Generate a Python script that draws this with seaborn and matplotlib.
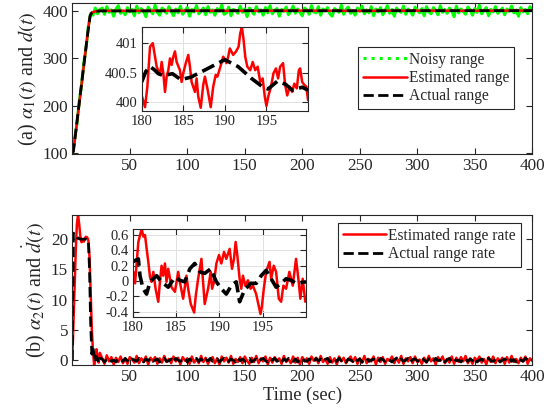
import numpy as np
import matplotlib
matplotlib.use("Agg")
import matplotlib.pyplot as plt
import seaborn as sns

# ---- data ----
# (a) range, main panel
t_range = [0, 1, 2, 4, 6, 8, 10, 12, 14, 15.5, 17, 20, 24, 50, 100, 150, 200, 250, 300, 350, 400]
actual_range = [100, 105, 125, 165, 205, 245, 285, 325, 364, 390, 396, 399, 400,
                400.0, 400.2, 400.5, 400.3, 400.4, 400.5, 400.6, 400.6]
est_range = [100, 104, 124, 164, 204, 244, 284, 324, 363, 389, 396.5, 399.2, 400.2,
             400.3, 400.5, 400.2, 400.7, 400.1, 400.6, 400.4, 400.9]

noisy_early = [96, 129, 161, 208, 243, 290, 322, 368, 395, 391, 406, 394, 403]
noisy_late = [
    406, 393, 409, 397, 402, 389, 404, 411, 395, 400,
    392, 407, 398, 403, 390, 410, 396, 405, 399, 388,
    408, 401, 394, 412, 397, 391, 406, 402, 395, 409,
    399, 390, 404, 396, 410, 393, 401, 407, 389, 403,
    398, 411, 394, 400, 406, 392, 409, 397, 402, 391,
    405, 399, 412, 393, 396, 408, 390, 403, 401, 395,
    410, 397, 404, 388, 406, 400, 393, 409, 398, 402,
    391, 407, 396, 411, 394, 401, 405, 389, 403, 399,
    408, 392, 400, 410, 395, 404, 397, 390, 406, 402,
    393, 411, 398, 396, 409, 391, 404, 400, 407, 394,
    389, 405, 401, 397, 412, 393, 403, 408, 395, 400,
    391, 406, 399, 410, 394, 402, 396, 409, 390, 404,
    398, 407, 392, 401, 411, 395, 403, 389, 406, 400,
    397, 410, 393, 404, 399, 391, 408, 402, 396, 405,
    390, 409, 398, 394, 407, 401, 392, 411, 397, 403,
    395, 406, 400, 388, 410, 396, 404, 399, 393, 408,
    402, 391, 405, 397, 412, 394, 401, 407, 390, 403,
    398, 409, 395, 400, 406, 392, 404, 399, 410, 396,
    402, 389, 407, 398, 403, 394, 409, 400]
noisy_range = noisy_early + noisy_late
t_noisy = np.linspace(0, 400, len(noisy_range))

# (a) inset, 180-200 s
ins_a_t_est = [180.0, 180.4, 180.68, 181.0, 181.33, 181.6, 181.8, 182.2, 182.4, 182.6,
               182.8, 183.0, 183.2, 183.4, 183.6, 183.8, 184.0, 184.2, 184.6, 184.8,
               185.0, 185.3, 185.6, 185.8, 186.0, 186.4, 186.6, 186.8, 187.1, 187.4,
               187.6, 187.9, 188.3, 188.6, 188.9, 189.1, 189.4, 189.8, 190.2, 190.4,
               190.6, 191.0, 191.35, 191.65, 191.85, 192.05, 192.25, 192.45, 192.7, 193.05,
               193.35, 193.65, 193.95, 194.25, 194.55, 194.8, 195.0, 195.25, 195.55, 195.85,
               196.15, 196.4, 196.65, 197.0, 197.25, 197.5, 197.8, 198.1, 198.35, 198.65,
               198.9, 199.05, 199.3, 199.55, 199.8, 200.0]
ins_a_est = [400.11, 399.91, 400.26, 400.94, 401.0, 400.77, 400.6, 400.46, 400.68, 400.49,
             400.17, 400.43, 400.54, 400.74, 400.63, 400.77, 400.86, 400.68, 400.54, 400.34,
             400.49, 400.66, 400.8, 400.6, 400.34, 400.17, 400.4, 400.09, 399.9, 400.29,
             400.43, 400.23, 399.91, 400.26, 400.46, 400.43, 400.57, 400.77, 400.66, 400.77,
             400.91, 400.8, 400.86, 400.94, 401.17, 401.27, 401.06, 400.77, 400.6, 400.54,
             400.68, 400.54, 400.6, 400.34, 400.4, 400.09, 399.93, 400.11, 400.26, 400.49,
             400.57, 400.4, 400.6, 400.66, 400.29, 400.11, 400.26, 400.17, 400.31, 400.23,
             400.54, 400.57, 400.34, 400.29, 400.26, 400.03]
ins_a_t_act = [180.0, 180.5, 181.0, 181.5, 182.0, 182.6, 183.7, 184.7, 185.9, 187.7,
               190.0, 191.6, 193.2, 194.6, 195.2, 196.3, 197.3, 198.1, 199.3, 200.0]
ins_a_act = [400.34, 400.52, 400.6, 400.55, 400.48, 400.45, 400.48, 400.38, 400.42, 400.55,
             400.72, 400.6, 400.4, 400.25, 400.22, 400.35, 400.3, 400.2, 400.25, 400.2]

# (b) range rate, main panel
est_rate_early = [0, 6, 12, 18, 22.5, 24, 22.5, 20.5, 19.5, 19.8, 19.6, 20.2, 20.4,
                  20.3, 19.8, 17, 11, 5, 1.5, -0.8, 0.3, 1.8, 0.6, -0.4, 1.2]
est_rate_late = [
    0.3, -0.6, 0.8, -0.2, 0.5, -0.7, 0.4, -0.3, 0.6, -0.5,
    0.2, -0.6, 0.5, 0.1, -0.4, 0.7, -0.5, 0.3, -0.2, 0.6,
    -0.7, 0.4, -0.1, 0.5, -0.6, 0.3, -0.4, 0.7, -0.3, 0.2,
    -0.5, 0.6, -0.2, 0.4, -0.7, 0.5, -0.1, 0.3, -0.6, 0.6,
    -0.4, 0.2, -0.5, 0.7, -0.3, 0.4, -0.6, 0.1, 0.5, -0.5,
    0.3, -0.7, 0.6, -0.2, 0.4, -0.4, 0.7, -0.6, 0.2, -0.3,
    0.5, -0.5, 0.6, -0.1, -0.6, 0.4, -0.3, 0.7, -0.5, 0.3,
    -0.2, 0.6, -0.7, 0.4, -0.4, 0.5, -0.1, 0.3, -0.6, 0.7,
    -0.3, 0.2, -0.5, 0.6, -0.4, 0.4, -0.7, 0.5, -0.2, 0.3,
    -0.6, 0.6, -0.1, 0.4, -0.5, 0.7, -0.3, 0.2, -0.6, 0.5,
    -0.4, 0.3, -0.7, 0.6, -0.2, 0.4, -0.5, 0.1, 0.6, -0.3,
    0.5, -0.6, 0.3, -0.4, 0.7, -0.5, 0.2, -0.2, 0.6, -0.7,
    0.4, -0.3, 0.5, -0.6, 0.2, -0.1, 0.6, -0.5, 0.4, -0.4,
    0.7, -0.6, 0.3, -0.2, 0.5, -0.5, 0.6, -0.3, 0.1, -0.6,
    0.4, -0.4, 0.7, -0.2, 0.3, -0.7, 0.5, -0.1, 0.6, -0.5,
    0.2, -0.4, 0.6, -0.6, 0.4, -0.3, 0.5, -0.2, 0.7, -0.5,
    0.3, -0.6, 0.4, -0.1, 0.6, -0.4, 0.2, -0.7, 0.5, -0.3,
    0.6, -0.5, 0.3, -0.2, 0.4, -0.6, 0.5, -0.4, 0.7, -0.3,
    0.2, -0.5, 0.4, -0.2, 0.6, -0.6, 0.3, -0.1]
act_rate_early = [0, 21, 20.8, 20.5, 20.3, 20.2, 20.1, 20, 20, 20, 20, 20, 20,
                  19.9, 19.8, 15, 6, 1, 2, 0.8, -0.3, 0.6, 0.2, -0.4, 0.3]
act_rate_late = [
    0.2, -0.3, 0.1, 0.3, -0.2, 0.0, -0.3, 0.2, 0.1, -0.2,
    0.3, -0.1, -0.3, 0.2, 0.0, -0.2, 0.3, 0.1, -0.3, 0.2,
    -0.1, 0.3, -0.2, 0.0, 0.2, -0.3, 0.1, 0.3, -0.2, -0.1,
    0.2, -0.3, 0.3, 0.0, -0.2, 0.1, 0.3, -0.3, 0.2, -0.1,
    0.0, 0.3, -0.2, 0.2, -0.3, 0.1, -0.1, 0.3, -0.2, 0.0,
    0.2, -0.3, 0.1, 0.3, -0.1, -0.2, 0.2, 0.0, -0.3, 0.3,
    -0.1, 0.2, -0.2, 0.1, 0.3, -0.3, 0.0, 0.2, -0.2, 0.1,
    0.3, -0.1, -0.3, 0.2, 0.0, 0.3, -0.2, 0.1, -0.3, 0.2,
    -0.1, 0.3, 0.0, -0.2, 0.2, -0.3, 0.1, 0.3, -0.1, -0.2,
    0.2, 0.0, -0.3, 0.3, -0.1, 0.2, -0.2, 0.1, 0.3, -0.3,
    0.0, 0.2, -0.2, 0.3, -0.1, 0.1, -0.3, 0.2, 0.0, -0.2,
    0.3, -0.1, 0.2, -0.3, 0.1, 0.3, -0.2, 0.0, 0.2, -0.1,
    -0.3, 0.3, 0.1, -0.2, 0.2, 0.0, -0.3, 0.1, 0.3, -0.1,
    0.2, -0.2, 0.0, 0.3, -0.3, 0.1, 0.2, -0.1, -0.2, 0.3,
    0.0, -0.3, 0.2, 0.1, -0.2, 0.3, -0.1, 0.0, 0.2, -0.3,
    0.1, 0.3, -0.2, 0.2, -0.1, 0.0, -0.3, 0.3, 0.1, -0.2,
    0.2, -0.1, 0.3, -0.3, 0.0, 0.2, -0.2, 0.1, 0.3, -0.1,
    -0.2, 0.1, 0.3, -0.3, 0.0, 0.2, -0.1, 0.3, -0.2, 0.1,
    -0.3, 0.2, 0.0, -0.2, 0.3, 0.1, -0.2, 0.0]
est_rate = est_rate_early + est_rate_late
act_rate = act_rate_early + act_rate_late
t_rate = np.concatenate([np.arange(0, len(est_rate_early)),
                         np.linspace(26, 400, len(est_rate_late))])

# (b) inset, 180-200 s
ins_b_t_est = [180.0, 180.08, 180.27, 180.65, 181.03, 181.23, 181.42, 181.61, 181.8, 182.0,
               182.18, 182.38, 182.64, 182.95, 183.14, 183.33, 183.52, 183.72, 183.9, 184.1,
               184.48, 184.87, 185.25, 185.44, 185.82, 186.2, 186.4, 186.7, 187.09, 187.28,
               187.55, 187.93, 188.12, 188.31, 188.7, 189.0, 189.16, 189.39, 189.66, 189.96,
               190.23, 190.54, 190.8, 191.19, 191.46, 191.69, 191.88, 192.07, 192.34, 192.53,
               192.72, 192.99, 193.3, 193.6, 193.87, 194.25, 194.44, 194.75, 194.9, 195.13,
               195.4, 195.79, 195.98, 196.28, 196.55, 196.86, 197.13, 197.39, 197.7, 198.08,
               198.47, 198.85, 199.12, 199.35, 199.62, 199.92]
ins_b_est = [0.01, 0.12, -0.03, 0.51, 0.68, 0.58, 0.6, 0.42, 0.25, 0.05,
             -0.01, 0.12, -0.1, -0.27, -0.01, 0.2, 0.07, 0.23, -0.01, 0.16,
             -0.08, -0.14, 0.12, -0.01, -0.23, 0.07, -0.1, -0.3, -0.41, -0.19,
             0.03, 0.29, -0.01, -0.3, -0.1, 0.12, -0.1, -0.01, 0.23, 0.34,
             0.23, 0.38, 0.29, 0.42, 0.16, 0.29, 0.51, 0.34, 0.03, -0.1,
             0.07, -0.06, 0.01, -0.1, -0.06, -0.17, -0.27, -0.43, -0.34, -0.1,
             0.12, 0.25, 0.03, 0.2, 0.12, -0.23, -0.27, -0.06, -0.1, 0.12,
             -0.06, 0.29, 0.03, -0.23, 0.03, -0.27]
ins_b_t_act = [180.0, 180.65, 180.84, 181.2, 181.6, 182.0, 182.76, 183.33, 184.1, 184.87,
               185.44, 186.0, 186.6, 187.16, 187.74, 188.31, 189.0, 189.66, 190.23, 190.8,
               191.38, 191.95, 192.34, 192.9, 193.6, 194.25, 194.83, 195.4, 195.98, 196.55,
               197.13, 197.7, 198.28, 198.85, 200.0]
ins_b_act = [0.25, 0.29, 0.07, -0.1, -0.17, -0.01, 0.07, -0.01, -0.08, 0.05,
             0.01, -0.01, 0.16, 0.23, 0.12, 0.1, 0.16, -0.01, -0.1, -0.17,
             -0.06, -0.01, -0.27, -0.12, -0.03, -0.03, 0.07, 0.14, 0.03, -0.08,
             -0.03, 0.03, 0.01, -0.03, -0.01]

main_xticks = [50, 100, 150, 200, 250, 300, 350, 400]
inset_xticks = [180, 185, 190, 195]

# ---- style ----
sns.set_theme(style="ticks")
plt.rcParams["font.family"] = ["Liberation Serif", "DejaVu Serif"]
plt.rcParams["mathtext.fontset"] = "stix"
plt.rcParams["axes.edgecolor"] = "0.15"
plt.rcParams["xtick.color"] = "0.15"
plt.rcParams["ytick.color"] = "0.15"
plt.rcParams["axes.labelcolor"] = "0.15"

GREEN, RED, BLACK = "#00ff00", "#ff0000", "black"


def line(ax, x, y, **kw):
    sns.lineplot(x=np.asarray(x, float), y=np.asarray(y, float), ax=ax,
                 estimator=None, sort=False, **kw)


def style_axes(ax, fs):
    ax.tick_params(direction="in", top=True, right=True, length=4, width=0.8,
                   labelsize=fs, pad=3)
    for s in ax.spines.values():
        s.set_linewidth(0.8)


def add_legend(ax, anchor):
    leg = ax.legend(loc="upper right", bbox_to_anchor=anchor, borderaxespad=0,
                    fontsize=11.2, frameon=True, fancybox=False, framealpha=1,
                    edgecolor="0.15", handlelength=2.8, handletextpad=0.15,
                    labelspacing=0.15, borderpad=0.3)
    leg.get_frame().set_linewidth(0.8)
    return leg


fig = plt.figure(figsize=(5.59, 4.17), dpi=100)
ax1 = fig.add_axes([0.1293, 0.630, 0.8229, 0.362])
ax2 = fig.add_axes([0.1293, 0.1247, 0.8229, 0.3597])

# panel (a)
# the many noisy samples merge into a solid band; the legend keeps the dotted key
line(ax1, t_noisy, noisy_range, color=GREEN, linestyle="-", linewidth=2.2,
     label="Noisy range")
line(ax1, t_range, est_range, color=RED, linestyle="-", linewidth=1.8, label="Estimated range")
line(ax1, t_range, actual_range, color=BLACK, linestyle="--", linewidth=2.0, label="Actual range")
ax1.set_xlim(0, 400)
ax1.set_ylim(98, 416)
ax1.set_xticks(main_xticks)
ax1.set_yticks([100, 200, 300, 400])
ax1.set_xlabel("")
ax1.set_ylabel(r"(a) $\alpha_1(t)$ and $d(t)$", fontsize=14.5, labelpad=2)
style_axes(ax1, 12.3)
leg1 = add_legend(ax1, (0.960, 0.711))
leg1.get_lines()[0].set_linestyle(":")
leg1.get_lines()[0].set_linewidth(2.2)

# panel (b)
line(ax2, t_rate, est_rate, color=RED, linestyle="-", linewidth=1.8, label="Estimated range rate")
line(ax2, t_rate, act_rate, color=BLACK, linestyle="--", linewidth=2.0, label="Actual range rate")
ax2.set_xlim(0, 400)
ax2.set_ylim(-0.8, 24)
ax2.set_xticks(main_xticks)
ax2.set_yticks([0, 5, 10, 15, 20])
ax2.set_xlabel("Time (sec)", fontsize=13.2, labelpad=1)
ax2.set_ylabel(r"(b) $\alpha_2(t)$ and $\dot{d}(t)$", fontsize=14.5, labelpad=2)
style_axes(ax2, 12.3)
add_legend(ax2, (0.975, 0.947))

# inset (a)
ia = fig.add_axes([0.2535, 0.7345, 0.2975, 0.2014])
line(ia, ins_a_t_est, ins_a_est, color=RED, linestyle="-", linewidth=1.8)
line(ia, ins_a_t_act, ins_a_act, color=BLACK, linestyle="--", linewidth=2.6)
ia.set_xlim(180, 200)
ia.set_ylim(399.85, 401.28)
ia.set_xticks(inset_xticks)
ia.set_yticks([400, 400.5, 401])
ia.set_yticklabels(["400", "400.5", "401"])
ia.grid(True, color="0.88", linewidth=0.7)
ia.set_xlabel("")
ia.set_ylabel("")
style_axes(ia, 10.5)

# inset (b)
ib = fig.add_axes([0.2374, 0.2405, 0.31, 0.2096])
line(ib, ins_b_t_est, ins_b_est, color=RED, linestyle="-", linewidth=1.8)
line(ib, ins_b_t_act, ins_b_act, color=BLACK, linestyle="--", linewidth=2.6)
ib.set_xlim(180, 200)
ib.set_ylim(-0.465, 0.675)
ib.set_xticks(inset_xticks)
ib.set_yticks([-0.4, -0.2, 0, 0.2, 0.4, 0.6])
ib.set_yticklabels(["-0.4", "-0.2", "0", "0.2", "0.4", "0.6"])
ib.grid(True, color="0.88", linewidth=0.7)
ib.set_xlabel("")
ib.set_ylabel("")
style_axes(ib, 10.5)

fig.savefig("out.png", dpi=100)
